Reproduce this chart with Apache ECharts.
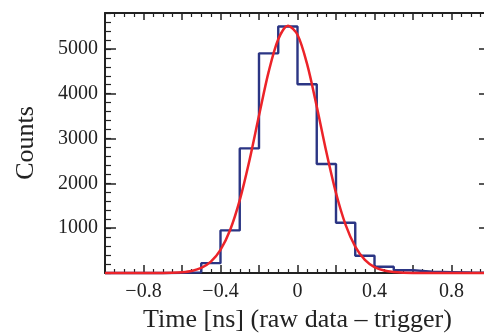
<!DOCTYPE html>
<html>
<head>
<meta charset="utf-8">
<script src="https://cdn.jsdelivr.net/npm/echarts@6/dist/echarts.min.js"></script>
<style>
html, body { margin: 0; padding: 0; background: #fff; }
#TimeHist { width: 484px; height: 336px; }
</style>
</head>
<body>
<div id="TimeHist"></div>
<script>
//histogram bins (left edge) and counts
var binEdges = [-1.0, -0.9, -0.8, -0.7, -0.6, -0.5, -0.4, -0.3, -0.2, -0.1, 0.0, 0.1, 0.2, 0.3, 0.4, 0.5, 0.6, 0.7, 0.8, 0.9, 1.0];
var binCounts = [0, 0, 0, 3, 15, 220, 950, 2780, 4900, 5500, 4210, 2430, 1120, 385, 140, 60, 30, 20, 10, 5, 5];

//fitted curve
var fitX = [-1.0, -0.8, -0.7, -0.65, -0.6, -0.55, -0.5, -0.45, -0.4, -0.35, -0.3, -0.25, -0.2, -0.15, -0.1, -0.05,
    0.0, 0.05, 0.1, 0.15, 0.2, 0.25, 0.3, 0.35, 0.4, 0.45, 0.5, 0.55, 0.6, 0.65, 0.7, 0.8, 1.0];
var fitY = [0, 0, 1, 5, 17, 45, 112, 252, 515, 958, 1624, 2503, 3512, 4486, 5215, 5517,
    5314, 4658, 3716, 2699, 1784, 1073, 588, 293, 133, 55, 21, 7, 2, 1, 0, 0, 0];

//tick labels
var xLabelStep = 0.4;
var yLabelStep = 1000;

function pairs(xs, ys) {
    var out = [];
    for (var i = 0; i < xs.length; i++) {
        out.push([xs[i], ys[i]]);
    }
    return out;
}

function xLabel(v) {
    var k = v / xLabelStep;
    if (Math.abs(k - Math.round(k)) > 1e-6) return '';
    if (Math.abs(v) < 1e-9) return '0';
    var s = Math.abs(v).toFixed(1);
    return v < 0 ? '\u2212' + s : s;
}

function yLabel(v) {
    if (v === 0 || v % yLabelStep !== 0) return '';
    return String(v);
}

var axisColor = '#222';
var fontFamily = '"Liberation Serif", "DejaVu Serif", serif';

function drawTimeHist() {
    var dom = document.getElementById("TimeHist");
    var myChart = echarts.init(dom);
    option = null;

    option = {
        animation: false,
        grid: { left: 105, right: -6, top: 13, bottom: 63, outerBoundsMode: 'none', containLabel: false },
        xAxis: [{
            type: 'value', position: 'bottom', min: -1, max: 1, interval: 0.2,
            name: 'Time [ns] (raw data \u2013 trigger)', nameLocation: 'middle', nameGap: 34,
            nameTextStyle: { color: axisColor, fontSize: 26, fontFamily: fontFamily },
            axisLine: { show: true, onZero: false, lineStyle: { color: axisColor, width: 2 } },
            axisTick: { show: true, inside: true, length: 8, lineStyle: { color: axisColor, width: 1.5 } },
            minorTick: { show: true, splitNumber: 4, length: 4, lineStyle: { color: axisColor, width: 1.2 } },
            axisLabel: { margin: 9, color: axisColor, fontSize: 20, fontFamily: fontFamily, formatter: xLabel },
            splitLine: { show: false }
        }, {
            type: 'value', position: 'top', min: -1, max: 1, interval: 0.2,
            axisLine: { show: true, onZero: false, lineStyle: { color: axisColor, width: 2 } },
            axisTick: { show: true, inside: true, length: 7, lineStyle: { color: axisColor, width: 1.5 } },
            minorTick: { show: true, splitNumber: 4, length: 4, lineStyle: { color: axisColor, width: 1.2 } },
            axisLabel: { show: false },
            splitLine: { show: false }
        }],
        yAxis: [{
            type: 'value', position: 'left', min: 0, max: 5800, interval: 1000,
            name: 'Counts', nameLocation: 'middle', nameGap: 66,
            nameTextStyle: { color: axisColor, fontSize: 26, fontFamily: fontFamily },
            axisLine: { show: true, onZero: false, lineStyle: { color: axisColor, width: 2 } },
            axisTick: { show: true, inside: true, length: 11, lineStyle: { color: axisColor, width: 1.5 } },
            axisLabel: { margin: 7, color: axisColor, fontSize: 20, fontFamily: fontFamily, formatter: yLabel },
            splitLine: { show: false }
        }, {
            //minor ticks every 200
            type: 'value', position: 'left', min: 0, max: 5800, interval: 200,
            axisLine: { show: false, onZero: false },
            axisTick: { show: true, inside: true, length: 6, lineStyle: { color: axisColor, width: 1.2 } },
            axisLabel: { show: false },
            splitLine: { show: false }
        }, {
            type: 'value', position: 'right', min: 0, max: 5800, interval: 1000,
            axisLine: { show: true, onZero: false, lineStyle: { color: axisColor, width: 2 } },
            axisTick: { show: true, inside: true, length: 11, lineStyle: { color: axisColor, width: 1.5 } },
            axisLabel: { show: false },
            splitLine: { show: false }
        }],
        series: [{
            name: 'data',
            type: 'line',
            step: 'end',
            symbol: 'none',
            clip: false,
            z: 3,
            lineStyle: { color: '#2b3584', width: 2.4 },
            data: pairs(binEdges, binCounts)
        }, {
            name: 'fit',
            type: 'line',
            smooth: 0.3,
            symbol: 'none',
            clip: false,
            z: 4,
            lineStyle: { color: '#ec2329', width: 2.5 },
            data: pairs(fitX, fitY)
        }]
    };

    if (option && typeof option === "object") {
        myChart.setOption(option, true);
    }
}

drawTimeHist();
</script>
</body>
</html>
